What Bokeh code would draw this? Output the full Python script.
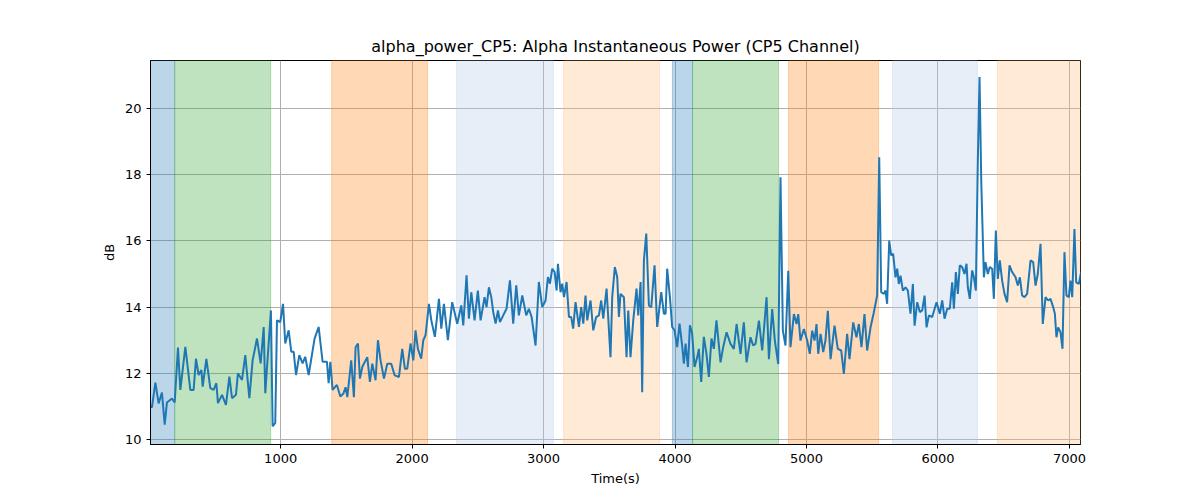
from bokeh.plotting import figure
from bokeh.models import BoxAnnotation, FixedTicker, Range1d
from bokeh.embed import file_html
from bokeh.resources import INLINE

# shaded epochs: (start, end, color, alpha)
band_start = [10, 194, 1388, 2338, 3152, 3980, 4133, 4863, 5654, 6452]
band_end = [194, 924, 2118, 3075, 3882, 4133, 4787, 5548, 6300, 7084]
band_color = ["#1f77b4", "#2ca02c", "#ff7f0e", "#aec7e8", "#ffbb78",
              "#1f77b4", "#2ca02c", "#ff7f0e", "#aec7e8", "#ffbb78"]
band_alpha = [0.3, 0.3, 0.3, 0.3, 0.3, 0.3, 0.3, 0.3, 0.3, 0.3]

time_s = [10, 21, 47, 72, 97, 118, 135, 173, 194, 219, 237, 275, 313, 338, 356, 376, 397, 407, 435, 465, 490, 511,
          523, 554, 584, 610, 630, 660, 675, 706, 731, 762, 787, 820, 848, 871, 883, 926, 939, 959, 972, 997,
          1018, 1035, 1061, 1081, 1099, 1117, 1142, 1167, 1187, 1213, 1258, 1289, 1319, 1352, 1365, 1378, 1395,
          1428, 1454, 1476, 1494, 1507, 1537, 1557, 1570, 1588, 1603, 1621, 1659, 1679, 1697, 1722, 1740, 1760,
          1786, 1811, 1841, 1867, 1900, 1925, 1945, 1963, 1988, 2009, 2026, 2044, 2069, 2085, 2102, 2128, 2146,
          2173, 2204, 2222, 2242, 2272, 2305, 2343, 2374, 2389, 2414, 2432, 2450, 2475, 2500, 2521, 2551, 2566,
          2584, 2602, 2617, 2635, 2653, 2668, 2693, 2718, 2744, 2769, 2792, 2812, 2838, 2868, 2888, 2909, 2939,
          2964, 2990, 3015, 3033, 3048, 3066, 3084, 3099, 3109, 3129, 3142, 3155, 3175, 3193, 3210, 3225, 3243,
          3269, 3286, 3302, 3319, 3332, 3357, 3378, 3400, 3421, 3438, 3454, 3479, 3509, 3522, 3542, 3560, 3573,
          3585, 3611, 3631, 3644, 3661, 3682, 3707, 3720, 3738, 3750, 3763, 3781, 3801, 3819, 3844, 3864, 3895,
          3915, 3928, 3940, 3961, 3978, 3996, 4016, 4034, 4054, 4067, 4080, 4098, 4113, 4130, 4148, 4169, 4181,
          4199, 4219, 4239, 4257, 4277, 4295, 4315, 4346, 4366, 4392, 4422, 4447, 4468, 4498, 4523, 4544, 4574,
          4594, 4612, 4638, 4663, 4696, 4714, 4739, 4759, 4785, 4802, 4820, 4840, 4861, 4878, 4904, 4924, 4937,
          4954, 4980, 5005, 5025, 5043, 5061, 5076, 5089, 5107, 5127, 5144, 5162, 5183, 5213, 5238, 5264, 5284,
          5309, 5327, 5355, 5380, 5398, 5418, 5441, 5461, 5487, 5512, 5537, 5553, 5568, 5588, 5601, 5613, 5629,
          5644, 5659, 5677, 5690, 5702, 5715, 5733, 5753, 5771, 5791, 5809, 5822, 5842, 5862, 5880, 5898, 5913,
          5931, 5956, 5989, 6014, 6032, 6050, 6070, 6090, 6108, 6121, 6136, 6151, 6166, 6184, 6202, 6217, 6227,
          6242, 6260, 6273, 6288, 6303, 6316, 6329, 6349, 6361, 6379, 6394, 6412, 6425, 6440, 6455, 6470, 6488,
          6506, 6526, 6544, 6564, 6590, 6607, 6623, 6640, 6658, 6678, 6704, 6724, 6742, 6759, 6780, 6797, 6818,
          6838, 6856, 6876, 6889, 6901, 6914, 6932, 6947, 6962, 6977, 6995, 7008, 7021, 7038, 7051, 7071, 7089]
power_db = [11.0, 10.97, 11.72, 11.09, 11.42, 10.45, 11.12, 11.24, 11.12, 12.78, 11.5, 12.8, 11.5, 11.5, 12.44, 11.95,
            12.1, 11.6, 12.44, 11.55, 11.5, 11.7, 11.1, 11.35, 11.05, 11.9, 11.25, 11.35, 12.0, 11.8, 12.55, 11.25,
            12.4, 13.05, 12.3, 13.4, 11.4, 13.9, 10.4, 10.5, 13.6, 13.55, 14.1, 12.9, 13.3, 12.65, 12.65, 11.95,
            12.55, 12.3, 12.5, 11.95, 13.05, 13.4, 12.35, 12.35, 11.7, 12.35, 11.5, 11.65, 11.3, 11.38, 11.58,
            11.28, 12.39, 11.28, 12.79, 12.9, 11.84, 12.19, 12.49, 11.74, 12.29, 11.79, 13.0, 12.39, 11.84, 12.29,
            12.29, 11.94, 11.89, 12.74, 12.14, 12.14, 12.9, 12.39, 13.3, 12.74, 12.44, 13.0, 13.15, 14.1, 13.6,
            13.1, 14.25, 13.35, 14.1, 13.0, 14.15, 13.5, 14.05, 13.45, 14.96, 13.65, 14.45, 13.6, 14.5, 13.6, 14.3,
            14.0, 14.6, 14.3, 13.85, 13.5, 13.9, 13.55, 13.75, 13.95, 14.81, 13.5, 14.66, 13.75, 14.35, 13.75,
            13.95, 13.7, 12.84, 14.76, 14.0, 14.2, 14.91, 14.71, 15.16, 15.06, 14.5, 15.31, 14.45, 14.71, 14.3,
            14.76, 13.7, 13.7, 13.35, 14.15, 13.4, 14.0, 13.5, 14.35, 13.6, 14.2, 13.3, 13.7, 13.75, 14.2, 13.65,
            14.56, 12.49, 14.3, 15.21, 14.91, 13.7, 14.4, 14.3, 12.49, 13.9, 12.49, 13.6, 14.56, 13.75, 14.76,
            11.43, 15.41, 16.22, 14.05, 14.0, 15.26, 13.4, 14.45, 13.8, 13.8, 15.16, 14.3, 13.4, 13.3, 12.79,
            13.5, 12.84, 12.29, 12.9, 12.19, 13.45, 13.2, 12.19, 12.49, 12.74, 11.74, 13.1, 12.59, 11.89, 13.05,
            12.74, 13.6, 12.33, 12.79, 13.24, 12.89, 12.74, 13.49, 12.59, 13.54, 12.33, 13.09, 12.84, 12.89, 13.59,
            12.69, 14.3, 12.43, 13.94, 12.99, 12.28, 17.92, 13.29, 12.84, 15.1, 12.79, 13.79, 13.49, 13.79, 12.99,
            13.34, 12.99, 12.59, 13.29, 12.99, 13.49, 12.59, 13.19, 12.64, 12.99, 13.89, 12.43, 13.44, 12.74,
            12.69, 11.98, 13.19, 12.43, 13.54, 13.09, 13.49, 12.79, 13.79, 12.69, 13.39, 13.84, 14.35, 18.53,
            14.45, 14.4, 14.5, 14.1, 16.01, 15.56, 15.61, 14.9, 15.16, 14.7, 14.95, 14.5, 14.6, 14.5, 13.8, 14.7,
            13.44, 14.15, 13.85, 13.9, 14.35, 13.39, 13.75, 13.7, 14.15, 13.8, 14.2, 13.65, 13.95, 13.95, 14.75,
            13.95, 15.06, 14.4, 15.26, 15.21, 15.0, 15.31, 14.6, 14.25, 15.11, 14.9, 14.5, 18.43, 20.95, 17.82,
            14.9, 15.36, 15.0, 15.21, 15.16, 14.25, 16.31, 14.85, 15.41, 14.8, 14.4, 14.15, 15.26, 15.06, 14.9,
            14.65, 14.9, 14.35, 14.3, 14.4, 15.41, 15.36, 14.65, 15.0, 15.91, 13.49, 14.3, 14.2, 14.25, 14.0, 13.8,
            13.09, 13.39, 13.24, 12.74, 15.66, 14.35, 14.3, 14.8, 14.3, 16.36, 14.75, 14.7, 15.06]

x_ticks = [1000, 2000, 3000, 4000, 5000, 6000, 7000]
y_ticks = [10, 12, 14, 16, 18, 20]

FONT = "DejaVu Sans"
p = figure(frame_width=930, frame_height=384, min_border_left=150, min_border_right=104,
           min_border_top=60, min_border_bottom=40,
           output_backend="svg", toolbar_location=None,
           x_range=Range1d(10, 7084), y_range=Range1d(9.85, 21.45),
           title="alpha_power_CP5: Alpha Instantaneous Power (CP5 Channel)")
p.title.align = "center"
p.title.text_font = FONT
p.title.text_font_size = "16px"
p.title.text_font_style = "normal"
p.title.text_color = "black"

for s, e, c, a in zip(band_start, band_end, band_color, band_alpha):
    p.add_layout(BoxAnnotation(left=s, right=e, fill_color=c, fill_alpha=a,
                               line_color=c, line_alpha=a, level="underlay"))

p.line(time_s, power_db, line_color="#1f77b4", line_width=2)

p.xaxis.ticker = FixedTicker(ticks=x_ticks)
p.yaxis.ticker = FixedTicker(ticks=y_ticks)
p.xaxis.axis_label = "Time(s)"
p.yaxis.axis_label = "dB"
for ax in (p.xaxis, p.yaxis):
    ax.axis_label_text_font = FONT
    ax.axis_label_text_font_style = "normal"
    ax.axis_label_text_font_size = "13px"
    ax.axis_label_text_color = "black"
    ax.major_label_text_font = FONT
    ax.major_label_text_font_size = "13px"
    ax.major_label_text_color = "black"
    ax.minor_tick_line_color = None
    ax.major_tick_out = 4
    ax.major_tick_in = 0
    ax.axis_line_color = "black"
p.xgrid.grid_line_color = "#b0b0b0"
p.ygrid.grid_line_color = "#b0b0b0"
p.xgrid.grid_line_width = 1
p.ygrid.grid_line_width = 1
p.outline_line_color = "black"
p.outline_line_alpha = 1
p.background_fill_color = "white"
p.border_fill_color = "white"

open("out.html", "w").write(file_html(p, INLINE))
